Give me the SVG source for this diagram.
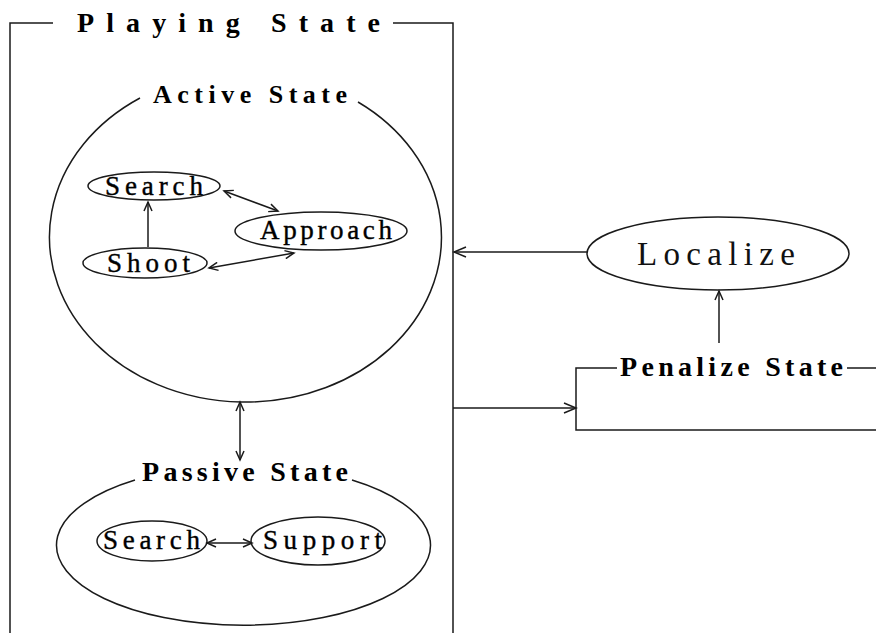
<svg xmlns="http://www.w3.org/2000/svg" width="876" height="633" viewBox="0 0 876 633">
<style>
.ln{fill:none;stroke:#1a1a1a;stroke-width:1.5}
.nd{fill:#fff;stroke:#1a1a1a;stroke-width:1.5}
.ttl{font-family:"Liberation Serif",serif;font-weight:bold;fill:#000}
.lbl{font-family:"Liberation Serif",serif;fill:#000;font-size:27px;stroke:#000;stroke-width:0.4}
</style>
<defs>
<marker id="ah" markerUnits="userSpaceOnUse" markerWidth="16" markerHeight="14" refX="13" refY="6" orient="auto-start-reverse">
<path d="M1,1 L13,6 L1,11" fill="none" stroke="#1a1a1a" stroke-width="1.5"/>
</marker>
<marker id="as" markerUnits="userSpaceOnUse" markerWidth="12" markerHeight="10" refX="10" refY="5" orient="auto-start-reverse">
<path d="M1,1 L10,5 L1,9" fill="none" stroke="#1a1a1a" stroke-width="1.5"/>
</marker>
</defs>
<rect width="876" height="633" fill="#fff"/>

<g id="playing-state">
<path class="ln" d="M53,23 H10 V633 M393,23 H453 V633"/>
<text class="ttl" x="77" y="32" font-size="28" textLength="303" lengthAdjust="spacing">Playing State</text>
</g>

<g id="active-state">
<path class="ln" d="M140,98 A196,165 0 1 0 358,102"/>
<text class="ttl" x="153" y="103" font-size="26" textLength="194" lengthAdjust="spacing">Active State</text>
</g>

<g id="active-search">
<ellipse class="nd" cx="154" cy="186" rx="66" ry="14"/>
<text class="lbl" x="105" y="195" textLength="98" lengthAdjust="spacing">Search</text>
</g>
<g id="approach">
<ellipse class="nd" cx="321" cy="231" rx="86" ry="19"/>
<text class="lbl" x="260" y="239" textLength="132" lengthAdjust="spacing">Approach</text>
</g>
<g id="shoot">
<ellipse class="nd" cx="145" cy="263" rx="62" ry="15"/>
<text class="lbl" x="107" y="272" textLength="83" lengthAdjust="spacing">Shoot</text>
</g>

<g id="passive-state">
<path class="ln" d="M135,480 A187,80 0 1 0 352,480"/>
<text class="ttl" x="142" y="481" font-size="28" textLength="206" lengthAdjust="spacing">Passive State</text>
</g>
<g id="passive-search">
<ellipse class="nd" cx="152" cy="541" rx="55" ry="20"/>
<text class="lbl" x="103" y="549" textLength="97" lengthAdjust="spacing">Search</text>
</g>
<g id="support">
<ellipse class="nd" cx="318" cy="541" rx="67" ry="24"/>
<text class="lbl" x="263" y="549" textLength="119" lengthAdjust="spacing">Support</text>
</g>

<g id="localize">
<ellipse class="nd" cx="718" cy="253.5" rx="131" ry="36.5"/>
<text x="637" y="265" font-family="Liberation Serif, serif" font-size="33" fill="#111" textLength="158" lengthAdjust="spacing">Localize</text>
</g>

<g id="penalize-state">
<path class="ln" d="M617,368 H576 V430 H876 M847,368 H876"/>
<text class="ttl" x="620" y="376" font-size="28" textLength="223" lengthAdjust="spacing">Penalize State</text>
</g>

<g id="connectors">
<path class="ln" d="M148,247 V202" marker-end="url(#as)"/>
<path class="ln" d="M224,191 L278,211" marker-start="url(#as)" marker-end="url(#as)"/>
<path class="ln" d="M209,268 L294,253" marker-start="url(#as)" marker-end="url(#as)"/>
<path class="ln" d="M240,402 V460" marker-start="url(#as)" marker-end="url(#as)"/>
<path class="ln" d="M207,543 H252" marker-start="url(#as)" marker-end="url(#as)"/>
<path class="ln" d="M587,252 H454" marker-end="url(#ah)"/>
<path class="ln" d="M719,343 V291" marker-end="url(#as)"/>
<path class="ln" d="M453,408 H576" marker-end="url(#ah)"/>
</g>
</svg>
